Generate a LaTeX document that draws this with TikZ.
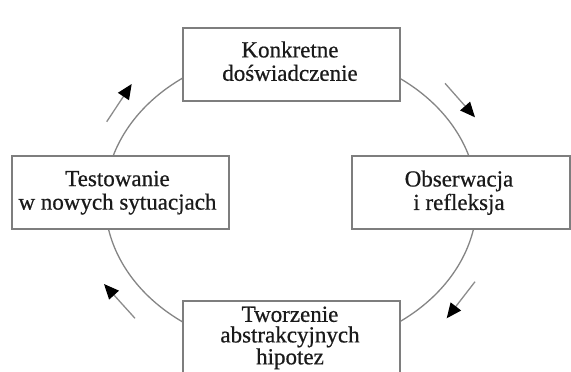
\documentclass[tikz,border=0pt]{standalone}
\usepackage{fontspec}
\setmainfont{Liberation Serif}
\newfontfamily\stagefont{Liberation Serif}[FakeBold=0.6]
\usetikzlibrary{arrows.meta}
\definecolor{boxgray}{HTML}{7E7E7E}
\definecolor{ringgray}{HTML}{858585}
\definecolor{shaftgray}{HTML}{8C8C8C}
\definecolor{inkc}{HTML}{1A1A1A}
\begin{document}
\begin{tikzpicture}[x=1pt,y=-1pt,
  stagebox/.style={draw=boxgray, line width=1.8pt, fill=white, minimum width=217pt, minimum height=73pt, inner sep=0pt},
  stagetext/.style={align=center, inner sep=0pt, text=inkc, font=\stagefont\fontsize{23}{23.5}\selectfont},
  ring/.style={draw=ringgray, line width=1.3pt},
  flow/.style={draw=shaftgray, line width=1.3pt, -{Triangle[length=15pt,width=13pt,color=black,fill=black]}}
]
\useasboundingbox (0,0) rectangle (571,372);
\fill[white] (0,0) rectangle (571,372);
% ring
\coordinate (ctr) at (291,200);
\draw[ring] (ctr) ellipse [x radius=186pt, y radius=150pt];
% boxes
\node[stagebox] (top) at (291.5,64.5) {};
\node[stagebox] (left) at (120.3,192.5) {};
\node[stagebox, minimum width=218pt] (right) at (460.8,192.8) {};
\node[stagebox] (bottom) at (291.5,337.2) {};
% texts
\node[stagetext, font=\stagefont\fontsize{23}{23.4}\selectfont] (topT) at (290,61.2) {Konkretne\\doświadczenie};
\node[stagetext] (leftT) at (117.5,192.7) {Testowanie\\w nowych sytuacjach};
\node[stagetext] (rightT) at (459,192.7) {Obserwacja\\i refleksja};
\node[stagetext, font=\stagefont\fontsize{23}{20.6}\selectfont] (bottomT) at (290,337.9) {Tworzenie\\abstrakcyjnych\\hipotez};
% arrows
\coordinate (ulA) at (106.7,121.7); \coordinate (ulB) at (131.7,84);
\coordinate (urA) at (445,83.3);    \coordinate (urB) at (475,117.3);
\coordinate (lrA) at (475,281.7);   \coordinate (lrB) at (446.7,318.3);
\coordinate (llA) at (135,318.3);   \coordinate (llB) at (104,284);
\draw[flow] (ulA) -- (ulB);
\draw[flow] (urA) -- (urB);
\draw[flow] (lrA) -- (lrB);
\draw[flow] (llA) -- (llB);
\end{tikzpicture}
\end{document}
